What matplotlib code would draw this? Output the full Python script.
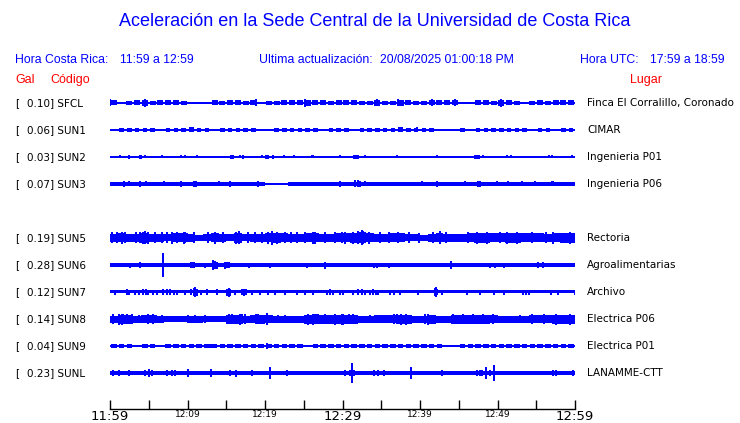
import numpy as np
import matplotlib

matplotlib.use("Agg")
import matplotlib.pyplot as plt
import matplotlib.transforms as mtransforms

# station table (slot 4 is empty in the original display)
codes = ["SFCL", "SUN1", "SUN2", "SUN3", "SUN5", "SUN6", "SUN7", "SUN8", "SUN9", "SUNL"]
slots = [0, 1, 2, 3, 5, 6, 7, 8, 9, 10]
peaks = ["0.10", "0.06", "0.03", "0.07", "0.19", "0.28", "0.12", "0.14", "0.04", "0.23"]
places = ["Finca El Corralillo, Coronado", "CIMAR", "Ingenieria P01", "Ingenieria P06",
          "Rectoria", "Agroalimentarias", "Archivo", "Electrica P06", "Electrica P01",
          "LANAMME-CTT"]

# base half thickness of each trace (relative amplitude units)
base = [0.6, 0.6, 0.6, 0.6, 2.5, 2.0, 1.5, 2.2, 0.5, 2.0]

# per-minute envelope (half amplitude), minute 0..59
env_sfcl = [2.5, 0, 2, 2.5, 3, 2, 2.5, 2.5, 2.5, 2, 0, 0, 0, 2.5, 2, 2.5, 2.5, 2, 2.5, 0,
            2, 2, 2.5, 2.5, 2.5, 3, 2.5, 2.5, 2, 2.5,
            2.5, 2.5, 2, 2, 3, 2, 2, 3, 2.5, 2, 2, 2.5, 2.5, 2.5, 2.5, 0, 0, 2.5, 2.5, 2,
            3, 2.5, 2, 0, 2, 2.5, 2, 2.5, 2.5, 2.5]
env_sun1 = [0, 2, 2, 2, 2, 2, 0, 2, 2, 2, 2.5, 2, 2, 0, 2, 2, 2, 2, 2, 0,
            0, 2, 2, 2, 2, 2, 2, 0, 2, 2,
            2, 0, 2, 2, 2, 2, 2, 2.5, 2, 2, 2, 2, 0, 0, 0, 2, 0, 2, 2, 2,
            2, 2, 2, 2, 0, 2, 2, 0, 2, 2]
env_sun2 = None
env_sun3 = [2, 2, 2, 2, 2, 2, 2, 2, 2, 2, 2, 2, 2, 2, 2, 2, 2, 2, 2, 2,
            0, 0, 0, 2, 2, 2, 2, 2, 2, 2,
            2.2, 2.2, 2.2, 2.2, 2.2, 2.2, 2.2, 2.2, 2.2, 2.2, 2.2, 2.2, 2.2, 2.2, 2.2, 2.2, 2.2, 2.2, 2.2, 2.2,
            2.2, 2.2, 2.2, 2.2, 2.2, 2.2, 2.2, 2.2, 2.2, 2.2]
env_sun5 = [4, 4.5, 4, 4, 5, 4, 4, 3.5, 4.5, 4.5, 4, 3, 3.5, 4.5, 4, 3.5, 5, 3.5, 4, 4,
            4.5, 5, 4.5, 4, 4, 4.5, 4.5, 4, 4, 4.5,
            4.5, 5, 5.5, 4.5, 4, 4, 4.5, 4.5, 3.5, 3.5, 3, 4, 4.5, 4, 4, 4, 4.5, 5, 5, 4.5,
            4.5, 5, 5, 4.5, 4.5, 4.5, 4, 4.5, 5, 5]
env_sun6 = None
env_sun7 = None
env_sun8 = [3.5, 4.5, 4.5, 3.5, 4, 4, 3.5, 3, 3, 3, 3.5, 3.5, 3, 3, 3, 4.5, 4.5, 3.5, 4, 4.5,
            4, 3.5, 3.5, 3.5, 3.5, 4.5, 5, 4.5, 4.5, 4.5,
            4.5, 4.5, 3.5, 3.5, 4, 4, 4, 4.5, 4.5, 3.5, 3.5, 4.5, 3.5, 3.5, 4.5, 4.5, 4.5, 4.5, 4.5, 4,
            3.5, 3.5, 3.5, 3.5, 4, 4, 4, 4.5, 4.5, 4.5]
env_sun9 = [1.8, 1.8, 1.8, 1.0, 1.8, 1.8, 0.8, 1.8, 1.8, 1.8, 1.8, 1.8, 1.8, 1.8, 1.8, 1.8, 1.8, 1.8, 1.8, 1.8,
            1.8, 1.8, 1.8, 1.8, 1.8, 0.5, 1.8, 1.8, 1.8, 1.8,
            1.8, 1.8, 1.8, 1.8, 1.8, 1.8, 1.8, 1.8, 1.8, 1.8, 1.8, 1.8, 1.8, 0.5, 1.0, 1.8, 1.8, 1.8, 1.8, 1.8,
            1.8, 1.8, 1.8, 1.8, 1.8, 1.8, 1.8, 1.8, 1.8, 1.8]
env_sunl = None
envs = [env_sfcl, env_sun1, env_sun2, env_sun3, env_sun5, env_sun6, env_sun7, env_sun8, env_sun9, env_sunl]

# isolated bursts: (minute, half amplitude)
spk_sfcl = [(0.0, 3.5), (4.5, 4), (18.9, 3.5), (25.1, 4), (34.5, 3.5), (37.2, 3.5), (41.5, 3.5),
            (44.5, 3.5), (50.5, 4)]
spk_sun1 = [(10.3, 2.5), (37.5, 2.5), (39.6, 2.5)]
spk_sun2 = [(1.3, 1.5), (2.4, 2), (2.5, 2), (3.9, 2), (4.0, 2), (4.5, 1.5), (6.7, 1.5), (9.2, 1.5),
            (9.7, 1.5), (11.2, 1.5), (13.8, 1.2), (15.6, 2), (15.8, 2), (15.9, 2), (16.8, 1.5), (17.2, 2),
            (19.6, 1.5), (20.1, 2), (20.3, 2), (20.4, 2), (21.0, 2), (22.4, 1.5), (23.7, 1.5), (26.0, 1.5),
            (26.2, 1.5), (29.7, 1.5), (31.5, 2), (31.7, 2), (32.0, 2), (32.9, 1.5), (33.8, 1.2), (37.0, 1.5),
            (42.2, 1.5), (47.1, 2), (47.4, 2), (47.6, 2), (48.1, 1.5), (51.2, 1.5), (51.8, 1.5),
            (56.6, 1.5), (57.0, 1.5), (58.1, 1.2), (59.6, 1.5)]
spk_sun3 = [(1.8, 3), (2.4, 2.5), (3.9, 3), (4.7, 2.5), (7.0, 2.5), (9.2, 3), (10.8, 3), (11.1, 3),
            (14.1, 2.5), (15.5, 3), (19.1, 3), (29.7, 3), (31.6, 3.5), (32.0, 3.5), (32.3, 3), (32.9, 2.5),
            (40.2, 2.5), (42.2, 3), (45.8, 2.5), (47.5, 3), (47.7, 3), (49.9, 2.5), (51.4, 2.5),
            (53.1, 2.5), (54.8, 2.5), (57.0, 2.5), (57.2, 2.5)]
spk_sun5 = [(0.2, 5.5), (0.9, 5.5), (1.5, 6), (1.9, 5.5), (3.4, 5.5), (3.9, 5.5), (4.3, 6), (4.5, 6.5),
            (4.9, 6), (5.8, 5.5), (6.7, 5.5), (7.3, 5.5), (8.0, 6), (8.6, 5.5), (9.5, 6), (9.7, 5.5),
            (10.8, 5.5), (12.7, 5.5), (13.5, 6), (14.6, 5.5), (16.3, 6), (16.6, 6.5), (17.8, 5.5),
            (18.7, 5.5), (19.6, 5.5), (20.4, 6), (20.9, 7), (21.5, 6), (22.6, 5.5), (23.4, 5.5),
            (24.1, 5.5), (25.2, 5.5), (26.2, 6), (26.5, 6), (27.7, 5.5), (29.0, 5.5), (29.9, 5.5),
            (30.3, 6), (31.4, 6), (32.0, 6.5), (32.5, 7.5), (32.7, 6.5), (33.4, 6), (34.8, 5.5),
            (36.0, 5.5), (37.2, 5.5), (38.6, 5.5), (39.9, 5), (41.7, 5.5), (42.6, 6.5), (43.4, 5.5),
            (46.2, 5.5), (47.3, 6), (48.6, 6), (50.3, 5.5), (51.2, 6), (52.5, 6), (54.4, 5.5),
            (56.3, 5.5), (57.2, 6), (59.4, 6)]
spk_sun6 = [(2.6, 2.5), (3.9, 3), (4.9, 2), (6.9, 12), (10.4, 3), (10.6, 3), (10.8, 3), (12.3, 2.5),
            (13.3, 4.5), (13.5, 4), (13.8, 3.5), (14.8, 3.5), (15.1, 3), (15.4, 3), (17.9, 2.5),
            (19.1, 2), (20.6, 2.5), (25.4, 2.5), (27.7, 3.5), (34.0, 2.5), (34.4, 2.5), (36.0, 2.5),
            (44.0, 4), (45.2, 2), (49.0, 2.5), (49.7, 2.5), (50.8, 2.5), (52.9, 2), (55.2, 3),
            (55.9, 3), (59.8, 2)]
spk_sun7 = [(0.6, 2.5), (2.2, 3), (2.5, 2.5), (3.2, 2.5), (3.7, 2.5), (4.3, 3), (4.6, 3), (4.9, 2.5),
            (5.6, 2.5), (6.0, 2.5), (6.9, 3), (7.3, 3), (7.7, 3), (8.2, 2.5), (8.6, 2.5), (9.7, 2.5),
            (10.5, 3), (10.8, 4), (11.0, 5), (11.2, 3.5), (11.8, 2.5), (12.5, 3), (13.8, 3),
            (15.1, 3.5), (15.3, 4.5), (15.5, 3.5), (16.1, 2.5), (17.0, 3), (17.3, 3.5), (17.6, 3),
            (18.3, 2.5), (19.4, 2.5), (20.4, 2.5), (21.3, 2.5), (22.6, 2.5), (24.1, 2.5), (25.2, 2.5),
            (26.2, 2.5), (28.0, 2.5), (28.4, 3), (28.8, 2.5), (29.7, 2.5), (30.1, 2.5), (31.4, 2.5),
            (32.0, 3), (32.5, 3), (32.9, 2.5), (33.5, 2.5), (33.9, 3), (34.3, 2.5), (34.6, 2.5),
            (36.1, 2.5), (36.6, 2.5), (37.4, 2.5), (39.8, 2.5), (41.9, 4), (42.0, 5.5), (42.2, 3),
            (42.8, 2.5), (46.0, 2.5), (47.7, 2.5), (49.5, 2.5), (50.8, 2.5), (53.3, 2.5), (53.7, 2.5),
            (54.0, 2.5), (56.9, 2.5), (57.8, 2.5), (60.0, 2.5)]
spk_sun8 = [(0.4, 5), (1.1, 5.5), (1.5, 5.5), (1.7, 5), (2.2, 5), (2.8, 5), (3.7, 4.5), (4.9, 5),
            (5.6, 5), (6.7, 4.5), (10.1, 4.5), (11.0, 4.5), (12.3, 4.5), (15.3, 5), (15.7, 5),
            (16.8, 5.5), (17.0, 5), (17.4, 5), (18.9, 5), (19.1, 5), (20.2, 6), (20.3, 5), (21.7, 4.5),
            (22.6, 4.5), (25.5, 5), (25.6, 5.5), (26.2, 5.5), (26.9, 5), (27.7, 5), (29.0, 5.5),
            (29.9, 5.5), (30.1, 5.5), (30.8, 5), (31.4, 5), (33.5, 4.5), (36.6, 5), (37.0, 5),
            (37.5, 5.5), (38.2, 5.5), (40.6, 5), (41.0, 5.5), (44.3, 5), (45.5, 5), (46.8, 5),
            (48.1, 5), (49.4, 5), (52.9, 4.5), (54.4, 5), (56.0, 5), (57.6, 5.5), (59.4, 5.5)]
spk_sun9 = [(13.0, 2.2), (20.3, 2.5), (40.5, 2.2)]
spk_sunl = [(0.4, 2.5), (1.1, 2.5), (2.4, 2.5), (4.5, 3), (5.0, 4), (5.4, 3), (7.3, 2.5), (8.0, 2.5),
            (8.4, 2.5), (10.1, 4.5), (13.0, 4), (15.5, 2.5), (16.3, 3.5), (18.3, 3), (20.6, 5.5),
            (22.8, 2.5), (30.3, 2.5), (31.0, 3), (31.2, 10), (31.5, 3), (34.0, 2.5), (34.6, 2.5),
            (35.3, 2.5), (38.8, 6), (42.8, 2.5), (47.3, 3), (47.7, 3), (48.0, 3), (48.5, 6),
            (49.0, 3), (49.5, 7.5), (57.2, 2.5), (57.6, 2.5), (59.8, 2.5)]
spikes = [spk_sfcl, spk_sun1, spk_sun2, spk_sun3, spk_sun5, spk_sun6, spk_sun7, spk_sun8, spk_sun9, spk_sunl]

# time axis: minutes after 11:59
tick_min = [0, 5, 10, 15, 20, 25, 30, 35, 40, 45, 50, 55, 60]
tick_txt = ["11:59", "", "12:09", "", "12:19", "", "12:29", "", "12:39", "", "12:49", "", "12:59"]

BLUE = "#0000ff"
RED = "#ff0000"
W, H = 740, 423
fig = plt.figure(figsize=(W / 100, H / 100), dpi=100)

# fraction of each minute covered by the envelope block (dashed look)
duty = [0.8, 0.6, 1.0, 1.0, 1.0, 1.0, 1.0, 1.0, 0.7, 1.0]


def fx(px):
    return px / W


def fy(py):
    return 1 - py / H


# trace panel: slot 0 centred at y=103 px, 27 px per slot
ax = fig.add_axes([fx(110), fy(390), (575 - 110) / W, (390 - 90) / H])
ax.set_xlim(0, 60)
ax.set_ylim(10 + 17 / 27, -13 / 27)
ax.axis("off")
amp = 1 / 27  # relative amplitude -> slot units

minutes = np.arange(60)
ytr = mtransforms.blended_transform_factory(fig.transFigure, ax.transData)
for k, code in enumerate(codes):
    y0 = slots[k]
    ax.fill_between([0, 60], y0 - base[k] * amp, y0 + base[k] * amp, color=BLUE, lw=0,
                    antialiased=False)
    if envs[k] is not None:
        e = np.array(envs[k]) * amp
        ax.bar(minutes + 0.5, 2 * e, bottom=y0 - e, width=duty[k], color=BLUE, lw=0,
               antialiased=False)
    t = [s[0] for s in spikes[k]]
    a = np.array([s[1] for s in spikes[k]]) * amp
    ax.vlines(t, y0 - a, y0 + a, color=BLUE, lw=1.2, antialiased=False)

    ax.text(fx(15), y0, "[", transform=ytr, fontsize=7.5, va="center", ha="left")
    ax.text(fx(27), y0, f"{peaks[k]}] {code}", transform=ytr, fontsize=7.5,
            va="center", ha="left")
    ax.text(fx(587), y0, places[k], transform=ytr, fontsize=7.5, va="center", ha="left")

# headers
hdr = ["Liberation Sans", "DejaVu Sans"]
fig.text(fx(375), fy(22), "Aceleración en la Sede Central de la Universidad de Costa Rica",
         color=BLUE, fontsize=13, family=hdr, ha="center", va="center")
top_row = [(15, "Hora Costa Rica:"), (120, "11:59 a 12:59"),
           (259, "Ultima actualización:"), (380, "20/08/2025 01:00:18 PM"),
           (580, "Hora UTC:"), (650, "17:59 a 18:59")]
for px, s in top_row:
    fig.text(fx(px), fy(60), s, color=BLUE, fontsize=8.8, family=hdr, va="center")
for px, s in [(15, "Gal"), (50, "Código"), (630, "Lugar")]:
    fig.text(fx(px), fy(80), s, color=RED, fontsize=9, family=hdr, va="center")

# time axis
tax = fig.add_axes([fx(110), fy(409), (575 - 110) / W, 0.03])
tax.set_xlim(0, 60)
tax.set_ylim(0, 1)
for side in ["top", "left", "right"]:
    tax.spines[side].set_visible(False)
tax.spines["bottom"].set_linewidth(1.0)
tax.set_yticks([])
tax.set_xticks(tick_min)
tax.set_xticklabels(tick_txt)
tax.tick_params(axis="x", direction="in", length=6.8, width=1.0, pad=0.5)
for lab in tax.get_xticklabels():
    if lab.get_text() in ("11:59", "12:29", "12:59"):
        lab.set_fontsize(9.5)
    else:
        lab.set_fontsize(6.5)
tax.patch.set_visible(False)

fig.savefig("out.png", dpi=100)
